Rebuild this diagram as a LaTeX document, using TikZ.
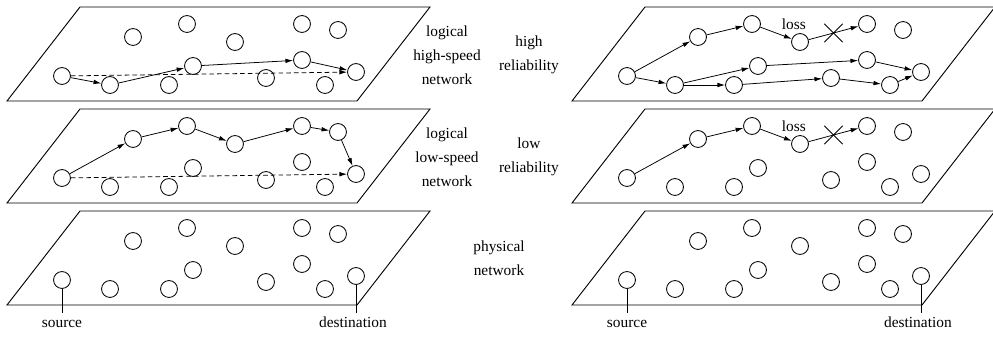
\documentclass[tikz,border=0pt]{standalone}
\usepackage{fontspec}
\setmainfont{Liberation Serif}
\usepackage{tikz}
\usetikzlibrary{positioning,arrows.meta,shapes.misc}
\tikzset{
    layer/.style={draw, line width=0.6pt, line join=miter},
    host/.style={draw, circle, fill=white, minimum size=11pt, inner sep=0pt,
                 line width=0.55pt},
    link/.style={-{Latex[length=5pt,width=3pt]}, line width=0.5pt},
    direct/.style={link, dash pattern=on 3pt off 2pt},
    layerLabel/.style={align=center, font=\fontsize{10}{15.5}\selectfont},
    endLabel/.style={font=\fontsize{10}{12}\selectfont, text height=1.6ex,
                     text depth=0.25ex, inner sep=1pt},
    lossLabel/.style={font=\fontsize{10}{12}\selectfont, inner sep=1pt},
    lossMark/.style={draw, cross out, minimum size=11.5pt, inner sep=0pt,
                     line width=0.5pt},
    tie/.style={line width=0.5pt},
}

% one network plane: #1,#2 shift (px), #3 prefix of the node names
\newcommand{\netlayer}[3]{%
  \begin{scope}[shift={(#1,#2)}]
    \draw[layer] (7,94) -- (357,94) -- (430,0) -- (80,0) -- cycle;
    \node[host] (#3src) at (62,69)  {};
    \node[host] (#3a)   at (133,30) {};
    \node[host] (#3b)   at (187,17) {};
    \node[host] (#3c)   at (235,35) {};
    \node[host] (#3d)   at (302,17) {};
    \node[host] (#3e)   at (338,23) {};
    \node[host] (#3f)   at (110,78) {};
    \node[host] (#3g)   at (169,78) {};
    \node[host] (#3h)   at (193,59) {};
    \node[host] (#3i)   at (266,71) {};
    \node[host] (#3j)   at (302,53) {};
    \node[host] (#3k)   at (325,78) {};
    \node[host] (#3dst) at (356,65) {};
  \end{scope}}

\begin{document}
\begin{tikzpicture}[x=0.65pt, y=-0.65pt]
\useasboundingbox (0,0) rectangle (993,339);

% =======================  LEFT column  =======================
\netlayer{0}{7}{Lh}
\netlayer{0}{109}{Lm}
\netlayer{0}{211}{Lp}

% high-speed route
\draw[link] (Lhsrc) -- (Lhf);
\draw[link] (Lhf) -- (Lhh);
\draw[link] (Lhh) -- (Lhj);
\draw[link] (Lhj) -- (Lhdst);
\draw[direct] (Lhsrc) -- (Lhdst);

% low-speed route
\draw[link] (Lmsrc) -- (Lma);
\draw[link] (Lma) -- (Lmb);
\draw[link] (Lmb) -- (Lmc);
\draw[link] (Lmc) -- (Lmd);
\draw[link] (Lmd) -- (Lme);
\draw[link] (Lme) -- (Lmdst);
\draw[direct] (Lmsrc) -- (Lmdst);

\coordinate (LsrcFoot) at (Lpsrc |- 0,313);
\coordinate (LdstFoot) at (Lpdst |- 0,313);
\draw[tie] (Lpsrc) -- (LsrcFoot);
\draw[tie] (Lpdst) -- (LdstFoot);
\node[endLabel, below=1pt of LsrcFoot] (LsrcText) {source};
\node[endLabel, below=1pt of LdstFoot, xshift=-2pt] (LdstText) {destination};

% =======================  labels  =======================
\node[layerLabel] (hsLabel) at (447,55)  {logical\\high-speed\\network};
\node[layerLabel] (lsLabel) at (447,157) {logical\\low-speed\\network};
\node[layerLabel] (phLabel) at (499,258) {physical\\network};
\node[layerLabel] (hrLabel) at (529,55)  {high\\reliability};
\node[layerLabel] (lrLabel) at (529,157) {low\\reliability};

% =======================  RIGHT column  =======================
\netlayer{565}{7}{Rh}
\netlayer{565}{109}{Rl}
\netlayer{565}{211}{Rp}

% high reliability: several routes
\draw[link] (Rhsrc) -- (Rha);
\draw[link] (Rha) -- (Rhb);
\draw[link] (Rhb) -- (Rhc);
\draw[link] (Rhc) -- (Rhd);
\draw[link] (Rhsrc) -- (Rhf);
\draw[link] (Rhf) -- (Rhh);
\draw[link] (Rhf) -- (Rhg);
\draw[link] (Rhh) -- (Rhj);
\draw[link] (Rhg) -- (Rhi);
\draw[link] (Rhi) -- (Rhk);
\draw[link] (Rhj) -- (Rhdst);
\draw[link] (Rhk) -- (Rhdst);
\path (Rhc) -- (Rhd) node[lossMark, pos=0.5] (Rhx) {};
\node[lossLabel, above=1pt of Rhc, xshift=-4pt] (RhLoss) {loss};

% low reliability: one route
\draw[link] (Rlsrc) -- (Rla);
\draw[link] (Rla) -- (Rlb);
\draw[link] (Rlb) -- (Rlc);
\draw[link] (Rlc) -- (Rld);
\path (Rlc) -- (Rld) node[lossMark, pos=0.5] (Rlx) {};
\node[lossLabel, above=1pt of Rlc, xshift=-4pt] (RlLoss) {loss};

\coordinate (RsrcFoot) at (Rpsrc |- 0,313);
\coordinate (RdstFoot) at (Rpdst |- 0,313);
\draw[tie] (Rpsrc) -- (RsrcFoot);
\draw[tie] (Rpdst) -- (RdstFoot);
\node[endLabel, below=1pt of RsrcFoot] (RsrcText) {source};
\node[endLabel, below=1pt of RdstFoot, xshift=-2pt] (RdstText) {destination};

\end{tikzpicture}
\end{document}
